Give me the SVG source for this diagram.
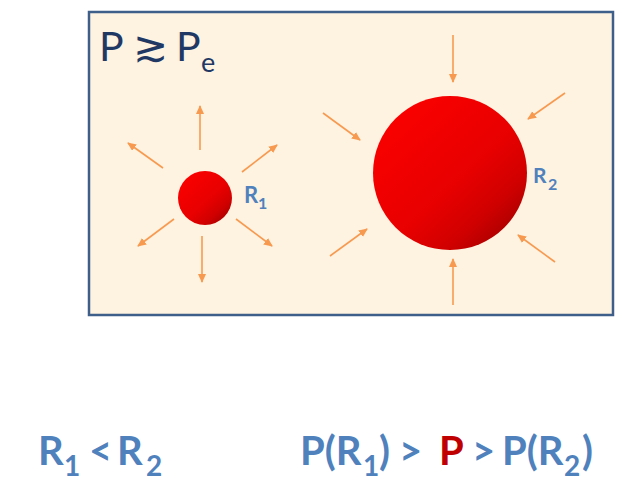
<svg xmlns="http://www.w3.org/2000/svg" width="633" height="491" viewBox="0 0 633 491">
<defs>
<style>
.arr{stroke:#F79A50;stroke-width:1.6;fill:none;marker-end:url(#ah)}
.lbl{font-family:Lato,"Liberation Sans",sans-serif;font-weight:bold;fill:#4F81BD}
.ttl{font-family:Lato,"Liberation Sans",sans-serif;fill:#1F3864}
</style>
<marker id="ah" markerWidth="10" markerHeight="10" refX="8" refY="4" orient="auto" markerUnits="userSpaceOnUse">
<path d="M0,0 L9,4 L0,8 Z" fill="#F79A50"/>
</marker>
<linearGradient id="rg" x1="0.15" y1="0.1" x2="0.9" y2="0.9">
<stop offset="0" stop-color="#FA0000"/>
<stop offset="0.55" stop-color="#E80000"/>
<stop offset="0.8" stop-color="#D00000"/>
<stop offset="1" stop-color="#A80000"/>
</linearGradient>
</defs>
<rect x="0" y="0" width="633" height="491" fill="#FFFFFF"/>
<g id="box">
<rect x="89" y="12" width="524" height="303" fill="#FEF2E0" stroke="#3E5F8A" stroke-width="2.5"/>
</g>
<g id="title">
<text class="ttl" font-size="41" y="61"><tspan x="99">P</tspan><tspan x="133" font-size="42">≳</tspan><tspan x="176">P</tspan><tspan x="201" y="72" font-size="27">e</tspan></text>
</g>
<g id="bubble1">
<circle cx="205" cy="198" r="27" fill="url(#rg)"/>
<text class="lbl" font-size="22" y="203"><tspan x="244">R</tspan><tspan x="258" y="209" font-size="16">1</tspan></text>
</g>
<g id="bubble2">
<circle cx="450" cy="173" r="77" fill="url(#rg)"/>
<text class="lbl" font-size="21" y="183"><tspan x="533">R</tspan><tspan x="548" y="190" font-size="16">2</tspan></text>
</g>
<g id="connectors">
<line class="arr" x1="200" y1="150" x2="200" y2="106"/>
<line class="arr" x1="163" y1="168" x2="128" y2="143"/>
<line class="arr" x1="242" y1="172" x2="277" y2="145"/>
<line class="arr" x1="174" y1="219" x2="138" y2="246"/>
<line class="arr" x1="202" y1="236" x2="202" y2="282"/>
<line class="arr" x1="236" y1="219" x2="272" y2="246"/>
<line class="arr" x1="453" y1="35" x2="453" y2="82"/>
<line class="arr" x1="565" y1="93" x2="528" y2="119"/>
<line class="arr" x1="323" y1="113" x2="360" y2="140"/>
<line class="arr" x1="330" y1="256" x2="367" y2="229"/>
<line class="arr" x1="453" y1="305" x2="453" y2="259"/>
<line class="arr" x1="555" y1="262" x2="518" y2="235"/>
</g>
<g id="eq1">
<text class="lbl" font-size="40" y="465"><tspan x="38">R</tspan><tspan x="64" y="476" font-size="28">1</tspan><tspan x="89" y="465">&lt;</tspan><tspan x="117">R</tspan><tspan x="146" y="476" font-size="28">2</tspan></text>
</g>
<g id="eq2">
<text class="lbl" font-size="40" y="465"><tspan x="300">P(R</tspan><tspan x="363" y="476" font-size="28">1</tspan><tspan x="379" y="465">)</tspan><tspan x="399">&gt;</tspan><tspan x="439" fill="#C00000">P</tspan><tspan x="472">&gt;</tspan><tspan x="502">P(R</tspan><tspan x="564" y="476" font-size="28">2</tspan><tspan x="582" y="465">)</tspan></text>
</g>
</svg>
